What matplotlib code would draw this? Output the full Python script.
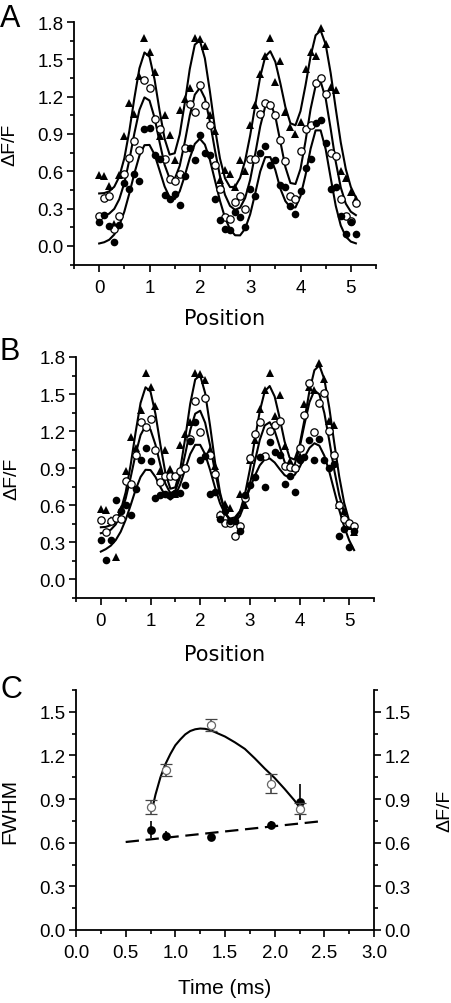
import numpy as np
import matplotlib
matplotlib.use('Agg')
import matplotlib.pyplot as plt
from matplotlib.ticker import MultipleLocator, FormatStrFormatter

plt.rcParams['font.family'] = ['Liberation Sans', 'DejaVu Sans']

# Positions of the profile samples (0 ... 5.1)
position = np.round(np.arange(52) * 0.1, 1)

# Panel A / B measured points
A_tri = [0.57,0.56,0.48,0.18,0.57,0.88,1.15,1.06,1.37,1.67, 1.56,1.40,0.88,1.05,0.89,0.69,1.09,1.18,1.27,1.67,
         1.66,1.61,1.05,0.92,0.53,0.61,0.58,0.47,0.69,0.60, 0.97,1.13,1.38,1.53,1.67,1.32,1.49,1.08,0.96,0.90,
         1.00,1.42,1.56,1.53,1.75,1.62,1.28,1.25,0.60,0.55, 0.43,0.38]
A_circ = [0.24,0.385,0.40,0.14,0.24,0.58,0.71,0.84,0.77,1.33, 1.27,1.02,0.94,0.70,0.54,0.52,0.58,0.79,1.14,1.08,
          1.29,1.13,0.97,0.65,0.46,0.23,0.22,0.35,0.40,0.30, 0.70,0.70,1.06,1.15,1.13,1.05,0.85,0.68,0.40,0.38,
          0.76,0.94,0.97,1.31,1.35,1.22,0.75,0.72,0.38,0.24, 0.20,0.345]
A_fill = [0.195,0.25,0.16,0.03,0.17,0.51,0.46,0.58,0.52,0.94, 0.95,0.73,0.70,0.41,0.38,0.42,0.33,0.565,0.785,0.69,
          0.89,0.75,0.73,0.38,0.21,0.14,0.13,0.27,0.23,0.15, 0.46,0.40,0.75,0.80,0.65,0.69,0.49,0.47,0.32,0.26,
          0.445,0.63,0.70,0.99,1.01,0.83,0.46,0.47,0.24,0.10, 0.19,0.10]
B_circ = [0.48,0.38,0.47,0.50,0.49,0.80,0.77,1.01,1.27,1.23, 1.30,1.05,0.79,0.84,0.84,0.84,0.88,0.90,1.14,1.44,
          1.19,1.47,1.01,0.85,0.52,0.46,0.455,0.35,0.43,0.66, 0.98,1.18,1.27,1.00,1.20,1.25,1.285,0.92,0.91,0.90,
          1.06,1.33,1.59,1.19,1.43,1.51,1.20,1.01,0.60,0.49, 0.455,0.43]
B_fill = [0.32,0.16,0.32,0.64,0.555,0.60,0.52,0.73,0.97,1.06, 0.96,0.66,0.68,0.69,0.68,0.70,0.70,0.76,1.12,1.27,
          0.97,1.00,0.69,0.71,0.49,0.55,0.47,0.47,0.39,0.68, 0.76,0.83,0.99,0.75,1.11,1.03,1.01,0.77,0.84,0.71,
          0.97,0.99,1.13,0.97,1.14,0.97,0.90,0.93,0.35,0.41, 0.26,0.39]

# Fitted curves at the same positions
fit_tri = [0.422,0.425,0.439,0.476,0.557,0.705,0.926,1.190,1.428,1.555, 1.520,1.339,1.088,0.862,0.734,0.745,0.895,1.147,1.422,1.618,
           1.652,1.508,1.242,0.947,0.703,0.544,0.473,0.476,0.547,0.686, 0.888,1.129,1.361,1.522,1.565,1.480,1.307,1.116,0.986,0.970,
           1.084,1.292,1.524,1.693,1.732,1.620,1.388,1.104,0.832,0.618, 0.474,0.389]
fitA_circ = [0.238,0.244,0.260,0.298,0.376,0.506,0.692,0.906,1.094,1.194, 1.169,1.031,0.835,0.652,0.542,0.538,0.644,0.833,1.048,1.216,
             1.270,1.188,1.000,0.770,0.562,0.411,0.322,0.290,0.308,0.385, 0.532,0.739,0.962,1.123,1.154,1.041,0.838,0.634,0.506,0.498,
             0.619,0.843,1.099,1.287,1.322,1.186,0.940,0.677,0.470,0.340, 0.275,0.248]
fitA_fill = [0.020,0.030,0.050,0.092,0.165,0.276,0.423,0.584,0.726,0.810, 0.812,0.735,0.608,0.478,0.391,0.376,0.439,0.563,0.706,0.820,
             0.862,0.815,0.692,0.528,0.363,0.227,0.134,0.086,0.085,0.139, 0.254,0.422,0.599,0.714,0.714,0.610,0.460,0.360,0.310,0.310,
             0.400,0.570,0.780,0.929,0.929,0.778,0.546,0.323,0.164,0.075, 0.035,0.021]
fitB_circ = [0.374,0.382,0.402,0.445,0.526,0.654,0.825,1.013,1.168,1.243, 1.212,1.090,0.924,0.775,0.697,0.717,0.834,1.016,1.208,1.341,
             1.365,1.268,1.084,0.870,0.681,0.547,0.476,0.466,0.513,0.616, 0.770,0.954,1.129,1.246,1.272,1.203,1.076,0.951,0.888,0.926,
             1.062,1.255,1.434,1.529,1.498,1.347,1.122,0.884,0.682,0.538, 0.450,0.404]
fitB_fill = [0.225,0.245,0.273,0.318,0.386,0.482,0.600,0.725,0.829,0.887, 0.885,0.829,0.747,0.675,0.646,0.679,0.770,0.895,1.015,1.089,
             1.089,1.013,0.886,0.742,0.616,0.530,0.492,0.502,0.552,0.634, 0.735,0.838,0.923,0.972,0.979,0.946,0.893,0.844,0.823,0.845,
             0.906,0.989,1.064,1.102,1.082,1.001,0.872,0.717,0.562,0.426, 0.317,0.237]

# Panel C
time_ms = [0.76, 0.91, 1.36, 1.96, 2.26]
fwhm = [0.69, 0.645, 0.636, 0.72, 0.88]
fwhm_err = [0.06, 0.033, 0.027, 0.029, 0.125]
dff = [0.845, 1.10, 1.41, 1.005, 0.835]
dff_err = [0.05, 0.042, 0.04, 0.066, 0.04]
curve_t = [0.77,0.80,0.85,0.90,0.95,1.00,1.05,1.10,1.15,1.20,1.25,1.30,1.35,1.40,1.50,1.60,1.70,1.80,1.90,2.00,2.10,2.20,2.26]
curve_dff = [0.84,0.93,1.05,1.14,1.21,1.27,1.31,1.345,1.368,1.38,1.385,1.383,1.375,1.36,1.33,1.29,1.245,1.18,1.11,1.045,0.97,0.89,0.835]
dash_t = [0.5, 2.47]
dash_fwhm = [0.605, 0.748]

fig = plt.figure(figsize=(4.52, 10.04), dpi=100)

def style(ax):
    for s in ['top', 'right']:
        ax.spines[s].set_visible(False)
    for s in ['left', 'bottom']:
        ax.spines[s].set_linewidth(1.3)
    ax.tick_params(which='both', direction='out', width=1.2, labelsize=13.5)
    ax.tick_params(which='major', length=5)
    ax.tick_params(which='minor', length=3)
    ax.tick_params(axis='y', pad=2.5)
    ax.tick_params(axis='x', pad=5)

def profile_panel(ax, circ, fill, fcirc, ffill, lab_y):
    ax.plot(position, fit_tri, color='black', lw=1.5, zorder=2)
    ax.plot(position, fcirc, color='black', lw=1.5, zorder=2)
    ax.plot(position, ffill, color='black', lw=1.5, zorder=2)
    ax.plot(position, A_tri, '^', color='black', ms=6.3, mew=0, zorder=3)
    ax.plot(position, circ, 'o', mfc='white', mec='black', ms=5.3, mew=0.9, zorder=3)
    ax.plot(position, fill, 'o', color='black', ms=5.5, mew=0, zorder=3)
    ax.set_xlim(-0.5, 5.5)
    ax.set_ylim(-0.153, 1.8)
    ax.xaxis.set_major_locator(MultipleLocator(1))
    ax.xaxis.set_minor_locator(MultipleLocator(0.5))
    ax.yaxis.set_major_locator(MultipleLocator(0.3))
    ax.yaxis.set_minor_locator(MultipleLocator(0.15))
    ax.yaxis.set_major_formatter(FormatStrFormatter('%.1f'))
    style(ax)
    ax.set_xlabel('Position', fontsize=15, family=['DejaVu Sans'])
    ax.set_ylabel('ΔF/F', fontsize=14)
    ax.yaxis.set_label_coords(-0.185, 0.5)
    ax.xaxis.set_label_coords(0.5, lab_y)

axA = fig.add_axes([74/452, 1 - 266/1004, 302/452, 243/1004])
profile_panel(axA, A_circ, A_fill, fitA_circ, fitA_fill, -0.175)
axB = fig.add_axes([76/452, 1 - 599.3/1004, 298/452, 241.3/1004])
profile_panel(axB, B_circ, B_fill, fitB_circ, fitB_fill, -0.19)

axC = fig.add_axes([76/452, 1 - 931/1004, 298/452, 240/1004])
axC.plot(dash_t, dash_fwhm, color='black', lw=1.6, dashes=(6, 3), zorder=2)
axC.errorbar(time_ms, fwhm, yerr=fwhm_err, fmt='o', color='black', ms=6.3, mew=0,
             ecolor='black', elinewidth=1.2, capsize=4.5, capthick=1.2, zorder=3)
axC.set_xlim(0, 3)
axC.set_ylim(0, 1.65)
axC.xaxis.set_major_locator(MultipleLocator(0.5))
axC.xaxis.set_minor_locator(MultipleLocator(0.25))
axC.yaxis.set_major_locator(MultipleLocator(0.3))
axC.yaxis.set_minor_locator(MultipleLocator(0.15))
axC.yaxis.set_major_formatter(FormatStrFormatter('%.1f'))
axC.xaxis.set_major_formatter(FormatStrFormatter('%.1f'))
style(axC)
axC.set_xlabel('Time (ms)', fontsize=15)
axC.set_ylabel('FWHM', fontsize=15)
axC.yaxis.set_label_coords(-0.19, 0.5)
axC.xaxis.set_label_coords(0.5, -0.2)

axR = axC.twinx()
axR.plot(curve_t, curve_dff, color='black', lw=1.5, zorder=2)
axR.errorbar(time_ms, dff, yerr=dff_err, fmt='o', mfc='white', mec='#666666', ms=5.8, mew=0.9,
             ecolor='#444444', elinewidth=1.2, capsize=4.5, capthick=1.2, zorder=3)
axR.set_ylim(0, 1.65)
axR.yaxis.set_major_locator(MultipleLocator(0.3))
axR.yaxis.set_minor_locator(MultipleLocator(0.15))
axR.yaxis.set_major_formatter(FormatStrFormatter('%.1f'))
for s in ['top', 'left', 'bottom']:
    axR.spines[s].set_visible(False)
axR.spines['right'].set_linewidth(1.3)
axR.tick_params(which='both', direction='out', width=1.2, labelsize=13.5, pad=2.5)
axR.tick_params(which='major', length=5)
axR.tick_params(which='minor', length=3)
axR.set_ylabel('ΔF/F', fontsize=14, rotation=90)
axR.yaxis.set_label_coords(1.21, 0.5)

fig.text(0.0, 1 - 27/1004, 'A', fontsize=22, va='baseline', ha='left')
fig.text(0.0, 1 - 360/1004, 'B', fontsize=22, va='baseline', ha='left')
fig.text(0.0, 1 - 698/1004, 'C', fontsize=22, va='baseline', ha='left')

fig.savefig('out.png', dpi=100)
